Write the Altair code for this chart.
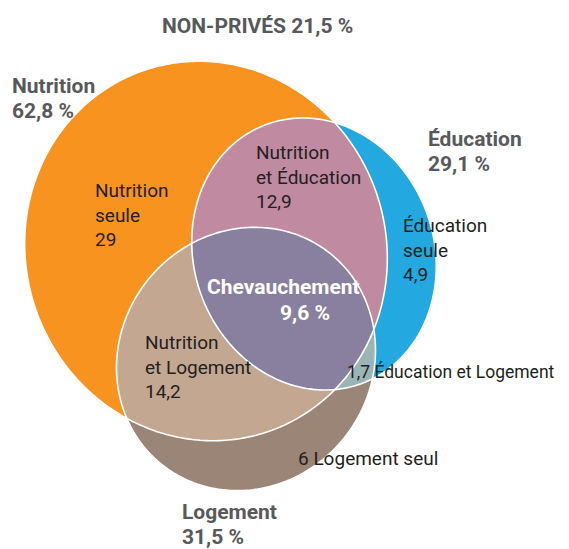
import altair as alt
import numpy as np

# ---------------- data ----------------
set_names = ["Nutrition", "Éducation", "Logement"]
set_shares = ["62,8 %", "29,1  %", "31,5 %"]
title_text = "NON-PRIVÉS 21,5 %"

region_labels = [
    "Nutrition\nseule\n29",
    "Nutrition\net Éducation\n12,9",
    "Éducation\nseule\n4,9",
    "Nutrition\net Logement\n14,2",
    "1,7 Éducation et Logement",
    "6 Logement seul",
]
overlap_label = "Chevauchement"
overlap_value = "9,6 %"

# ---------------- layout (pixel space of the picture) ----------------
# ellipse: centre x, centre y, semi-axis a, semi-axis b, angle of a (deg)
shapes = {
    "Nutrition": (206, 251, 191, 180, 70),
    "Éducation": (314, 254, 138, 120, 70),
    "Logement": (246, 359, 135, 126, -52),
}
colors = {
    "N": "#F7931E", "E": "#24A8E0", "L": "#9B8577",
    "NE": "#C08AA0", "NL": "#C3A791", "EL": "#9BB4B6", "NEL": "#88809E",
}


def ellipse(cx, cy, a, b, ang, n=360):
    t = np.linspace(0, 2 * np.pi, n, endpoint=False)
    r = np.radians(ang)
    ux, uy = np.cos(r), np.sin(r)
    vx, vy = -np.sin(r), np.cos(r)
    x = cx + a * np.cos(t) * ux + b * np.sin(t) * vx
    y = cy + a * np.cos(t) * uy + b * np.sin(t) * vy
    return [(float(p), float(q)) for p, q in zip(x, y)]


def signed_area(p):
    n = len(p)
    return sum(p[i][0] * p[(i + 1) % n][1] - p[(i + 1) % n][0] * p[i][1] for i in range(n)) / 2


def clip(subject, clipper):
    s = 1 if signed_area(clipper) > 0 else -1

    def inside(pt, a, b):
        return s * ((b[0] - a[0]) * (pt[1] - a[1]) - (b[1] - a[1]) * (pt[0] - a[0])) >= 0

    def inter(p, q, a, b):
        x1, y1 = p; x2, y2 = q; x3, y3 = a; x4, y4 = b
        den = (x1 - x2) * (y3 - y4) - (y1 - y2) * (x3 - x4)
        t = ((x1 - x3) * (y3 - y4) - (y1 - y3) * (x3 - x4)) / den
        return (x1 + t * (x2 - x1), y1 + t * (y2 - y1))

    out = subject
    m = len(clipper)
    for i in range(m):
        a = clipper[i]; b = clipper[(i + 1) % m]
        inp = out
        out = []
        if not inp:
            break
        prev = inp[-1]
        for cur in inp:
            if inside(cur, a, b):
                if not inside(prev, a, b):
                    out.append(inter(prev, cur, a, b))
                out.append(cur)
            elif inside(prev, a, b):
                out.append(inter(prev, cur, a, b))
            prev = cur
    return out


N = ellipse(*shapes["Nutrition"])
E = ellipse(*shapes["Éducation"])
L = ellipse(*shapes["Logement"])
NE = clip(N, E)
NL = clip(N, L)
EL = clip(E, L)
NEL = clip(NE, L)


def feature(poly, key):
    ring = [[round(x, 2), round(y, 2)] for x, y in poly]
    ring.append(ring[0])
    return {"type": "Feature", "geometry": {"type": "Polygon", "coordinates": [ring]},
            "properties": {"key": key, "fill": colors[key]}}


fills = [feature(N, "N"), feature(E, "E"), feature(L, "L"),
         feature(NE, "NE"), feature(NL, "NL"), feature(EL, "EL"), feature(NEL, "NEL")]
outlines = [feature(N, "N"), feature(E, "E"), feature(L, "L")]

FONT = "Roboto"

fill_layer = alt.Chart(alt.Data(values=fills)).mark_geoshape(strokeWidth=0).encode(
    fill=alt.Fill("properties.fill:N", scale=None)
)
outline_layer = alt.Chart(alt.Data(values=outlines)).mark_geoshape(
    filled=False, stroke="white", strokeWidth=1.6
).encode(
    stroke=alt.value("white")
)

# label positions (x left, y baseline of first line), font size
region_pos = [(95, 197, 19), (256, 159, 19), (403, 232, 19), (145, 349, 19),
              (347, 378, 17.5), (298, 465, 19)]
set_pos = [(12, 93), (428, 146), (182, 519)]

region_rows = [{"t": t, "x": p[0], "y": p[1], "s": p[2]} for t, p in zip(region_labels, region_pos)]
set_rows = [{"t": n + "\n" + s, "x": p[0], "y": p[1]} for n, s, p in zip(set_names, set_shares, set_pos)]
set_rows.append({"t": title_text, "x": 162, "y": 33})
overlap_rows = [{"t": overlap_label, "x": 207, "y": 294}, {"t": overlap_value, "x": 280, "y": 320}]

region_text = alt.Chart(alt.Data(values=region_rows)).mark_text(
    align="left", baseline="alphabetic", font=FONT, lineBreak="\n",
    lineHeight=24.5, color="#231F20"
).encode(longitude="x:Q", latitude="y:Q", text="t:N",
         size=alt.Size("s:Q", scale=None, legend=None))

set_text = alt.Chart(alt.Data(values=set_rows)).mark_text(
    align="left", baseline="alphabetic", font=FONT, fontSize=21, fontWeight="bold",
    lineBreak="\n", lineHeight=25, color="#58595B"
).encode(longitude="x:Q", latitude="y:Q", text="t:N")

overlap_text = alt.Chart(alt.Data(values=overlap_rows)).mark_text(
    align="left", baseline="alphabetic", font=FONT, fontSize=21, fontWeight="bold",
    color="white"
).encode(longitude="x:Q", latitude="y:Q", text="t:N")

chart = alt.layer(
    fill_layer, outline_layer, region_text, set_text, overlap_text
).project(
    type="identity", scale=1, translate=[-8, -8]
).properties(
    width=553, height=541, padding=0, autosize="none"
).configure_view(stroke=None)

chart.save("out.html", embed_options={"renderer": "svg", "actions": False})
